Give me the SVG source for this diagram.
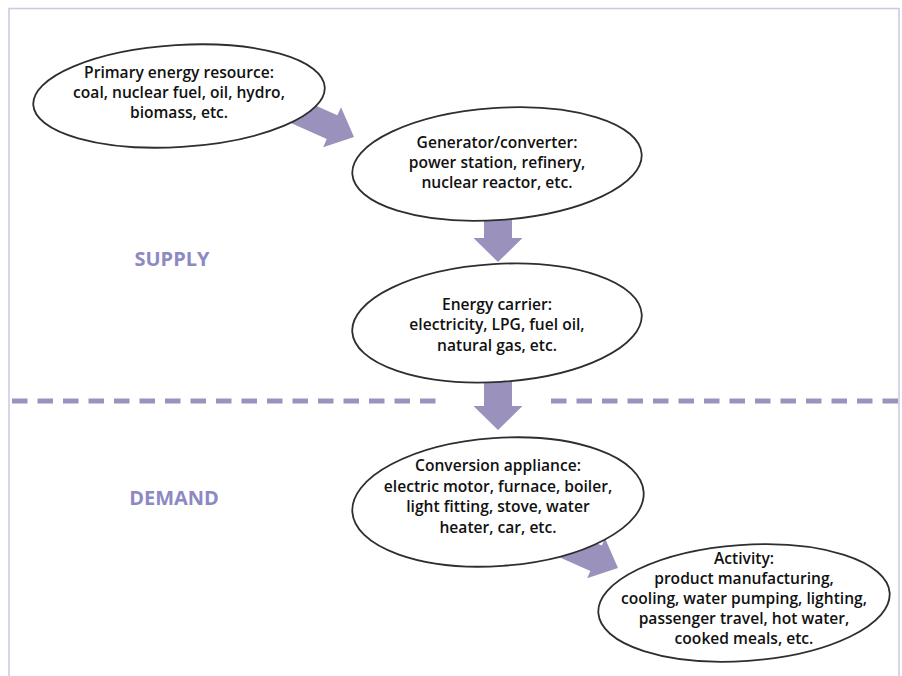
<svg xmlns="http://www.w3.org/2000/svg" width="902" height="676" viewBox="0 0 902 676">
<style>
.frame{fill:none;stroke:#c9c7e2;stroke-width:1.5}
.dash{stroke:#9a93be;stroke-width:5;stroke-dasharray:15.5 10;fill:none}
.arrow{fill:#9a92bd}
.node ellipse{fill:#fff;stroke:#2e2e2e;stroke-width:1.8}
.node text{font-family:"Open Sans","Liberation Sans",sans-serif;font-weight:600;font-size:15.6px;fill:#111;text-anchor:middle}
.zone{font-family:"Open Sans","Liberation Sans",sans-serif;font-weight:700;font-size:20px;fill:#8c89c4;text-anchor:middle}
</style>
<rect width="902" height="676" fill="#fff"/>
<path class="frame" d="M9,680 V8.5 H899 V680"/>
<line class="dash" x1="12" y1="401" x2="437" y2="401"/>
<line class="dash" x1="551" y1="401" x2="899" y2="401"/>
<text class="zone" x="172" y="266">SUPPLY</text>
<text class="zone" x="174" y="505">DEMAND</text>
<g id="connectors">
<path class="arrow" transform="translate(354,137) rotate(24)" d="M0,0 L-24,-22 L-24,-13 L-75,-13 L-75,13 L-24,13 L-24,22 Z"/>
<path class="arrow" transform="translate(498,262) rotate(90)" d="M0,0 L-24,-24.5 L-24,-14 L-60,-14 L-60,14 L-24,14 L-24,24.5 Z"/>
<path class="arrow" transform="translate(498,430) rotate(90)" d="M0,0 L-24,-24.5 L-24,-14 L-55,-14 L-55,14 L-24,14 L-24,24.5 Z"/>
<path class="arrow" transform="translate(618,568) rotate(24)" d="M0,0 L-24,-22 L-24,-14 L-90,-14 L-90,14 L-24,14 L-24,22 Z"/>
</g>
<g id="primary" class="node">
<ellipse cx="179" cy="96" rx="146" ry="51" transform="rotate(-3.5 179 96)"/>
<text x="179" y="78">Primary energy resource:</text>
<text x="179" y="98">coal, nuclear fuel, oil, hydro,</text>
<text x="179" y="118">biomass, etc.</text>
</g>
<g id="generator" class="node">
<ellipse cx="497" cy="164" rx="145" ry="56" transform="rotate(-4 497 164)"/>
<text x="497" y="148">Generator/converter:</text>
<text x="497" y="168">power station, refinery,</text>
<text x="497" y="188">nuclear reactor, etc.</text>
</g>
<g id="carrier" class="node">
<ellipse cx="497" cy="323" rx="145" ry="59" transform="rotate(-3.5 497 323)"/>
<text x="497" y="310">Energy carrier:</text>
<text x="497" y="330">electricity, LPG, fuel oil,</text>
<text x="497" y="351">natural gas, etc.</text>
</g>
<g id="appliance" class="node">
<ellipse cx="498" cy="502" rx="146" ry="64" transform="rotate(-4 498 502)"/>
<text x="498" y="471">Conversion appliance:</text>
<text x="498" y="492">electric motor, furnace, boiler,</text>
<text x="498" y="512">light fitting, stove, water</text>
<text x="498" y="533">heater, car, etc.</text>
</g>
<g id="activity" class="node">
<ellipse cx="744" cy="603" rx="146" ry="58" transform="rotate(-4 744 603)"/>
<text x="744" y="564">Activity:</text>
<text x="744" y="584">product manufacturing,</text>
<text x="744" y="604">cooling, water pumping, lighting,</text>
<text x="744" y="624">passenger travel, hot water,</text>
<text x="744" y="644">cooked meals, etc.</text>
</g>
</svg>
